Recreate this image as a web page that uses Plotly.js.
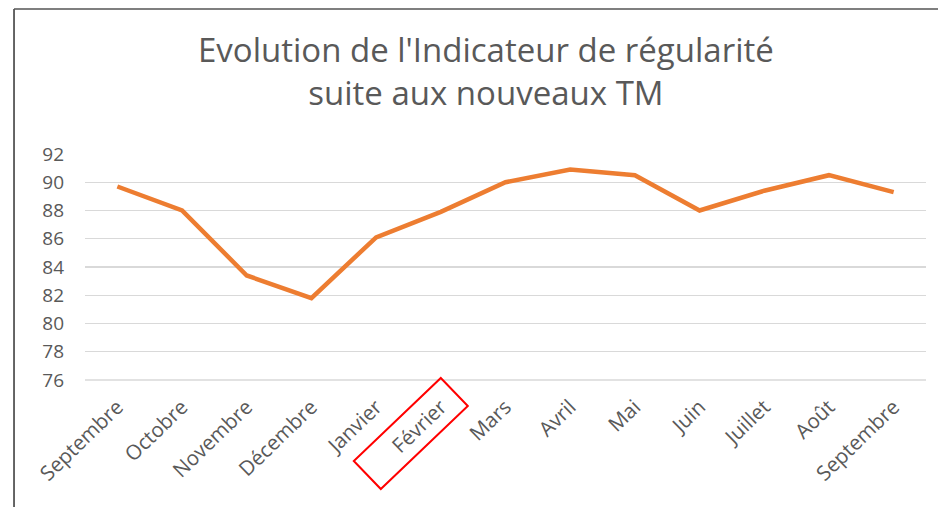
<!DOCTYPE html>
<html>
<head>
<meta charset="utf-8">
<script src="https://cdn.plot.ly/plotly-3.0.1.min.js"></script>
<style>html,body{margin:0;padding:0;background:#fff;}#chart{width:938px;height:507px;}</style>
</head>
<body>
<div id="chart"></div>
<script>
const months = ["Septembre","Octobre","Novembre","Décembre","Janvier","Février","Mars","Avril","Mai","Juin","Juillet","Août","Septembre"];
const indicateur = [89.7, 88.0, 83.4, 81.8, 86.1, 87.9, 90.0, 90.9, 90.5, 88.0, 89.4, 90.5, 89.3];
const yTicks = [76, 78, 80, 82, 84, 86, 88, 90, 92];
const highlighted = "Février";

const xIdx = months.map((m, i) => i);
const hiIdx = months.indexOf(highlighted);

const trace = {
  x: xIdx,
  y: indicateur,
  type: "scatter",
  mode: "lines",
  line: {color: "#ED7D31", width: 4.5},
  hoverinfo: "skip"
};

const layout = {
  width: 938, height: 507,
  margin: {l: 85, r: 12, t: 154, b: 127},
  paper_bgcolor: "#fff", plot_bgcolor: "#fff",
  showlegend: false,
  font: {family: "Open Sans, sans-serif", color: "#595959"},
  title: {
    text: "Evolution de l'Indicateur de régularité<br>suite aux nouveaux TM",
    font: {family: "Open Sans, sans-serif", size: 33, color: "#595959"},
    xref: "container", x: 0.518, xanchor: "center",
    yref: "container", y: 0.877, yanchor: "top"
  },
  xaxis: {
    range: [-0.5, months.length - 0.5],
    tickvals: xIdx, ticktext: months,
    tickangle: -44,
    tickfont: {size: 20.5, color: "#595959"},
    showgrid: false, zeroline: false, showline: false,
    ticks: "", ticklabelstandoff: 10, fixedrange: true
  },
  yaxis: {
    range: [76, 92],
    tickvals: yTicks,
    tickfont: {size: 19, color: "#595959"},
    showgrid: true, gridcolor: "#D9D9D9", gridwidth: 1.3,
    zeroline: false, showline: false, ticks: "",
    ticklabelstandoff: 20, fixedrange: true
  },
  shapes: [
    {type: "line", xref: "paper", yref: "paper", x0: -0.0844, x1: -0.0844, y0: 1.6416, y1: -0.6,
     line: {color: "#333333", width: 1.5}},
    {type: "line", xref: "paper", yref: "paper", x0: -0.0844, x1: 1.03, y0: 1.6416, y1: 1.6416,
     line: {color: "#555555", width: 1.5}},
    {type: "line", xref: "paper", yref: "paper", x0: 0, x1: 1, y0: 0, y1: 0,
     line: {color: "#D9D9D9", width: 1.3}},
    {type: "path", xref: "x", yref: "paper", xsizemode: "pixel", ysizemode: "pixel",
     xanchor: hiIdx, yanchor: 0,
     path: "M 0 2 L 27 -26 L -60 -109 L -87 -81 Z",
     line: {color: "#FF0000", width: 2}}
  ]
};

Plotly.newPlot("chart", [trace], layout, {staticPlot: true, displayModeBar: false});
</script>
</body>
</html>
